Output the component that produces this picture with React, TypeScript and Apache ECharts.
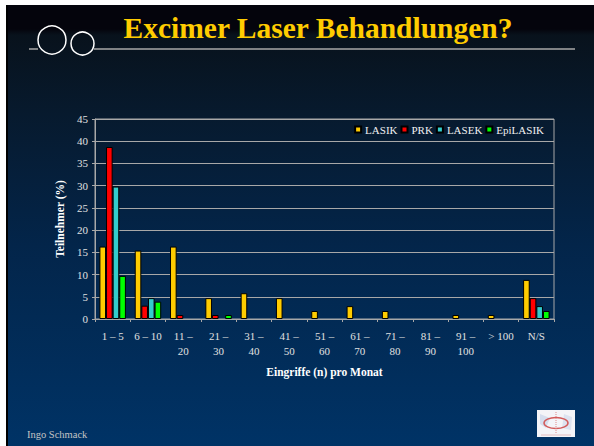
import React, { useEffect, useRef } from "react";
import * as echarts from "echarts";

const categories = [
  "1 \u2013 5",
  "6 \u2013 10",
  "11 \u2013\n20",
  "21 \u2013\n30",
  "31 \u2013\n40",
  "41 \u2013\n50",
  "51 \u2013\n60",
  "61 \u2013\n70",
  "71 \u2013\n80",
  "81 \u2013\n90",
  "91 \u2013\n100",
  "> 100",
  "N/S",
];
const seriesNames = ["LASIK", "PRK", "LASEK", "EpiLASIK"];
const lasik = [16.3, 15.4, 16.3, 4.7, 5.8, 4.7, 1.8, 2.9, 1.8, 0, 0.9, 0.9, 8.8];
const prk = [38.7, 3.0, 0.9, 0.9, 0, 0, 0, 0, 0, 0, 0, 0, 4.7];
const lasek = [29.8, 4.7, 0, 0, 0, 0, 0, 0, 0, 0, 0, 0, 2.9];
const epiLasik = [9.7, 3.9, 0, 0.9, 0, 0, 0, 0, 0, 0, 0, 0, 1.8];
const seriesColors = ["#ffcc00", "#ff0000", "#33cccc", "#00ff00"];
const yMin = 0;
const yMax = 45;
const yInterval = 5;

const SERIF = '"Liberation Serif", "Times New Roman", serif';

export default function App() {
  const ref = useRef<HTMLDivElement>(null);

  useEffect(() => {
    const chart = echarts.init(ref.current!, null, { renderer: "svg" });
    const allData = [lasik, prk, lasek, epiLasik];
    chart.setOption({
      animation: false,
      backgroundColor: "transparent",
      textStyle: { fontFamily: SERIF },
      grid: {
        left: 95,
        top: 119,
        width: 459,
        height: 200,
        show: true,
        borderColor: "#a8a8a8",
        borderWidth: 1,
        backgroundColor: "transparent",
      },
      legend: {
        right: 50,
        top: 124,
        padding: 0,
        itemWidth: 6,
        itemHeight: 6,
        itemGap: 3,
        icon: "rect",
        textStyle: { color: "#f0f0f0", fontSize: 11, fontFamily: SERIF, padding: [0, 0, 0, -1] },
        data: seriesNames,
      },
      xAxis: {
        type: "category",
        data: categories,
        name: "Eingriffe (n) pro Monat",
        nameLocation: "middle",
        nameGap: 47,
        nameTextStyle: { color: "#ffffff", fontSize: 11.5, fontWeight: "bold", fontFamily: SERIF },
        axisLine: { show: true, lineStyle: { color: "#a8a8a8", width: 1 } },
        axisTick: { show: true, interval: 0, length: 3, lineStyle: { color: "#a8a8a8" } },
        axisLabel: {
          interval: 0,
          color: "#e0e0e0",
          fontSize: 11,
          lineHeight: 15,
          margin: 9,
          fontFamily: SERIF,
        },
        splitLine: { show: false },
      },
      yAxis: {
        type: "value",
        min: yMin,
        max: yMax,
        interval: yInterval,
        name: "Teilnehmer (%)",
        nameLocation: "middle",
        nameGap: 26,
        nameTextStyle: { color: "#ffffff", fontSize: 11.5, fontWeight: "bold", fontFamily: SERIF },
        axisLine: { show: true, lineStyle: { color: "#a8a8a8", width: 1 } },
        axisTick: { show: true, length: 3, lineStyle: { color: "#a8a8a8" } },
        axisLabel: { color: "#e0e0e0", fontSize: 11, margin: 7, fontFamily: SERIF },
        splitLine: { show: true, lineStyle: { color: "#a8a8a8", width: 1 } },
      },
      series: seriesNames.map((name, i) => ({
        name,
        type: "bar",
        barGap: "0%",
        barCategoryGap: "25%",
        data: allData[i].map((v) => (v === 0 ? null : v)),
        itemStyle: { color: seriesColors[i], borderColor: "#000000", borderWidth: 1 },
      })),
      graphic: [
        {
          type: "line",
          shape: { x1: 29, y1: 49, x2: 38, y2: 49 },
          style: { stroke: "#a8a8a8", lineWidth: 1.5 },
        },
        {
          type: "line",
          shape: { x1: 94, y1: 49, x2: 575, y2: 49 },
          style: { stroke: "#a8a8a8", lineWidth: 1.5 },
        },
        {
          type: "circle",
          shape: { cx: 52, cy: 40, r: 14 },
          style: { fill: "none", stroke: "#ffffff", lineWidth: 1.5 },
        },
        {
          type: "circle",
          shape: { cx: 82.5, cy: 43.5, r: 11.5 },
          style: { fill: "none", stroke: "#ffffff", lineWidth: 1.5 },
        },
        {
          type: "text",
          x: 318,
          y: 28,
          style: {
            text: "Excimer Laser Behandlungen?",
            font: 'bold 29.5px "Liberation Serif", "Times New Roman", serif',
            fill: "#ffcc00",
            align: "center",
            verticalAlign: "middle",
            textAlign: "center",
            textVerticalAlign: "middle",
          },
        },
        {
          type: "text",
          x: 27,
          y: 434,
          style: {
            text: "Ingo Schmack",
            font: '10.5px "Liberation Serif", "Times New Roman", serif',
            fill: "#c4c4c4",
            align: "left",
            verticalAlign: "middle",
            textAlign: "left",
            textVerticalAlign: "middle",
          },
        },
        {
          type: "group",
          children: [
            {
              type: "rect",
              shape: { x: 537, y: 410, width: 38, height: 27 },
              style: { fill: "#f4f4f8" },
            },
            {
              type: "polygon",
              shape: { points: [[540, 414], [550, 418], [546, 428], [540, 424]] },
              style: { fill: "#d6deee" },
            },
            {
              type: "polygon",
              shape: { points: [[564, 414], [572, 417], [571, 430], [562, 428]] },
              style: { fill: "#dde3f0" },
            },
            {
              type: "ellipse",
              shape: { cx: 556, cy: 423, rx: 12, ry: 5.5 },
              style: { fill: "none", stroke: "#d25a5a", lineWidth: 1.5 },
            },
            {
              type: "line",
              shape: { x1: 556, y1: 412, x2: 556, y2: 434 },
              style: { stroke: "#e08a8a", lineWidth: 1, lineDash: [1, 1] },
            },
            {
              type: "line",
              shape: { x1: 541, y1: 435, x2: 571, y2: 435 },
              style: { stroke: "#e0b0b0", lineWidth: 0.8 },
            },
          ],
        },
      ],
    });
    return () => chart.dispose();
  }, []);

  return (
    <div
      style={{
        position: "fixed",
        left: 0,
        top: 0,
        width: 594,
        height: 446,
        background: "#ffffff",
        overflow: "hidden",
      }}
    >
      <div
        style={{
          position: "absolute",
          left: 6,
          top: 5,
          right: 0,
          bottom: 0,
          borderLeft: "2px solid #000000",
          background:
            "linear-gradient(to bottom, #04040c 0px, #04040c 24px, #08121c 30px, #071a2e 110px, #03254a 240px, #003366 100%)",
        }}
      />
      <div ref={ref} style={{ position: "absolute", left: 0, top: 0, width: 594, height: 446 }} />
    </div>
  );
}
